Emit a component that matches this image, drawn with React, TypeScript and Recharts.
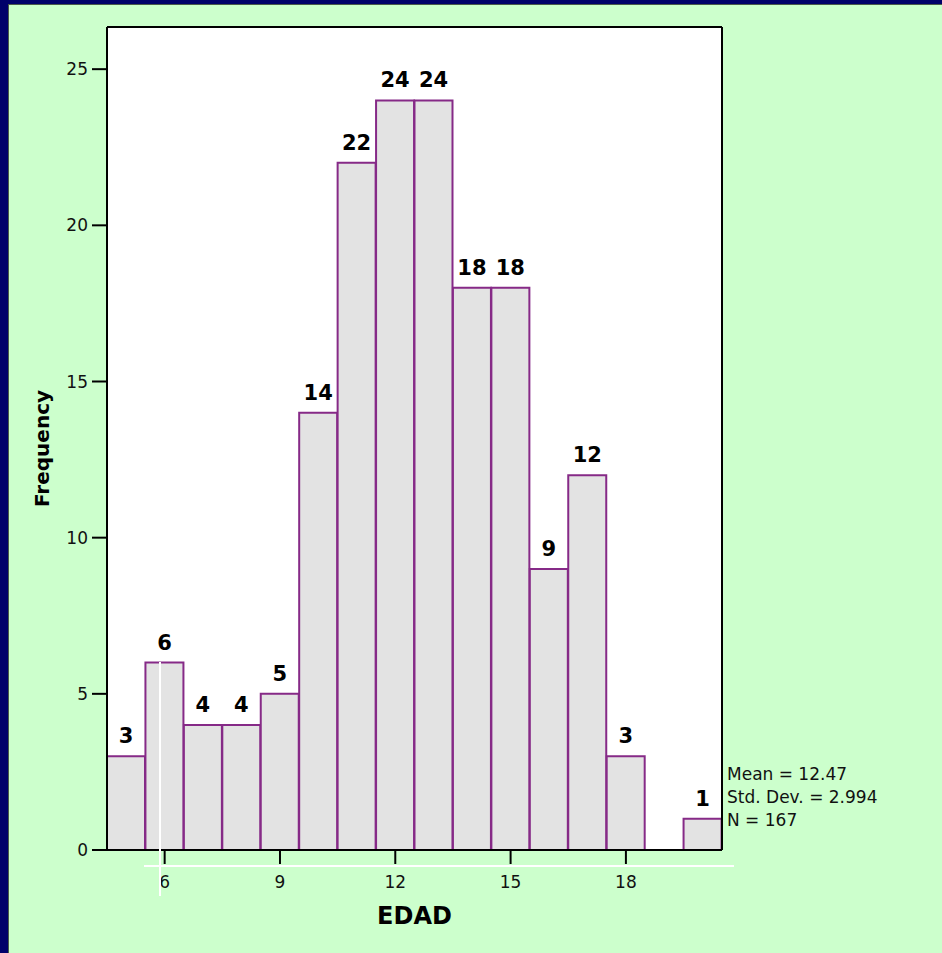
import React from 'react';
import { BarChart, Bar, XAxis, YAxis, CartesianGrid, LabelList, Label, ReferenceLine } from 'recharts';

const FONT = '"DejaVu Sans", "Liberation Sans", sans-serif';

const ages = [5, 6, 7, 8, 9, 10, 11, 12, 13, 14, 15, 16, 17, 18, 19, 20];
const counts = [3, 6, 4, 4, 5, 14, 22, 24, 24, 18, 18, 9, 12, 3, 0, 1];
const xTicks = [6, 9, 12, 15, 18];
const yTicks = [0, 5, 10, 15, 20, 25];
const xDomain = [4.5, 20.5];
const yDomain = [0, 26.35];
const stats = ['Mean = 12.47', 'Std. Dev. = 2.994', 'N = 167'];

const data = ages.map((age, i) => ({ age, count: counts[i] }));

const BAR_STROKE = '#862a87';

export default function App() {
  return (
    <div
      style={{
        position: 'fixed',
        left: 0,
        top: 0,
        width: 942,
        height: 953,
        background: '#00006a',
        overflow: 'hidden',
        fontFamily: FONT,
      }}
    >
      <div
        style={{
          position: 'absolute',
          left: 8,
          top: 4,
          right: 0,
          bottom: 0,
          background: '#ccffcc',
          borderLeft: '1px solid #4a5a4a',
          borderTop: '1px solid #4a5a4a',
        }}
      />
      <div style={{ position: 'absolute', left: 0, top: 0 }}>
        <BarChart
          width={942}
          height={953}
          data={data}
          margin={{ top: 27, right: 220, bottom: 29, left: 47 }}
          barCategoryGap={0}
          barGap={0}
        >
          <CartesianGrid fill="#ffffff" horizontal={false} vertical={false} />
          <XAxis
            dataKey="age"
            type="number"
            domain={xDomain}
            ticks={xTicks}
            interval={0}
            allowDataOverflow
            height={74}
            axisLine={{ stroke: '#000', strokeWidth: 2 }}
            tickLine={{ stroke: '#000', strokeWidth: 2 }}
            tickSize={14}
            tickMargin={12}
            tick={{ fill: '#111', fontSize: 17, fontFamily: FONT }}
          >
            <Label
              value="EDAD"
              position="insideBottom"
              offset={0}
              fill="#000"
              fontSize={24}
              fontWeight="bold"
              fontFamily={FONT}
            />
          </XAxis>
          <YAxis
            type="number"
            domain={yDomain}
            ticks={yTicks}
            interval={0}
            allowDataOverflow
            width={60}
            axisLine={{ stroke: '#000', strokeWidth: 2 }}
            tickLine={{ stroke: '#000', strokeWidth: 2 }}
            tickSize={15}
            tickMargin={4}
            tick={{ fill: '#111', fontSize: 17, fontFamily: FONT }}
          >
            <Label
              value="Frequency"
              angle={-90}
              position="insideLeft"
              offset={-5}
              dy={10}
              fill="#000"
              fontSize={20}
              fontWeight="bold"
              fontFamily={FONT}
              style={{ textAnchor: 'middle' }}
            />
          </YAxis>
          <ReferenceLine y={yDomain[1]} stroke="#000" strokeWidth={2} ifOverflow="visible" />
          <ReferenceLine x={xDomain[1]} stroke="#000" strokeWidth={2} ifOverflow="visible" />
          <Bar
            dataKey="count"
            fill="#e3e3e3"
            stroke={BAR_STROKE}
            strokeWidth={2}
            isAnimationActive={false}
          >
            <LabelList
              dataKey="count"
              position="top"
              offset={13}
              formatter={(v: any) => (v === 0 ? '' : v)}
              fill="#000"
              fontSize={21}
              fontWeight="bold"
              fontFamily={FONT}
            />
          </Bar>
        </BarChart>
      </div>
      <div
        style={{
          position: 'absolute',
          left: 727,
          top: 763,
          fontSize: 17,
          lineHeight: '23px',
          color: '#111',
          fontFamily: FONT,
          whiteSpace: 'nowrap',
        }}
      >
        {stats.map((s) => (
          <div key={s}>{s}</div>
        ))}
      </div>
      <div style={{ position: 'absolute', left: 159, top: 662, width: 2, height: 234, background: '#ffffff' }} />
      <div style={{ position: 'absolute', left: 144, top: 865, width: 590, height: 2, background: '#ffffff' }} />
    </div>
  );
}
